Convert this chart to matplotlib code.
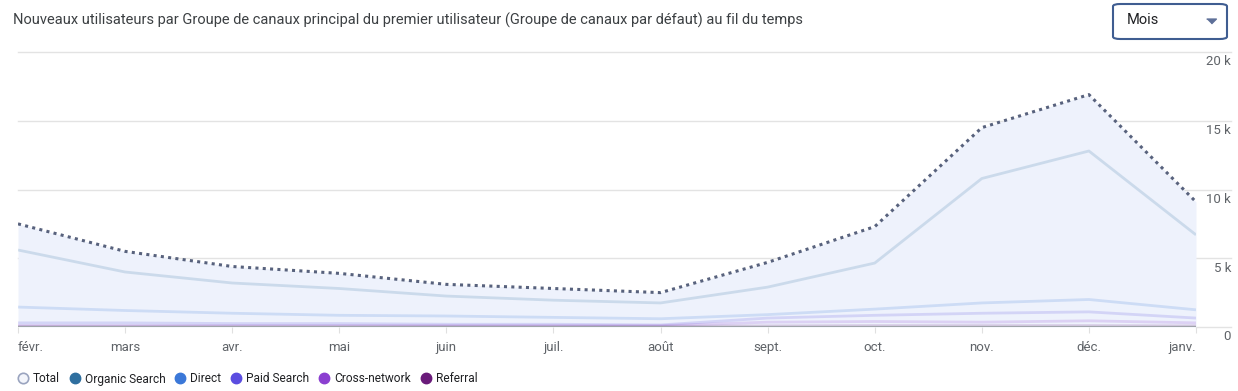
import numpy as np
import matplotlib.pyplot as plt
from matplotlib.patches import FancyBboxPatch
from matplotlib.lines import Line2D

plt.rcParams['font.family'] = ['Roboto', 'DejaVu Sans']

mois = ['févr.', 'mars', 'avr.', 'mai', 'juin', 'juil.', 'août', 'sept.', 'oct.', 'nov.', 'déc.', 'janv.']
total = [7500, 5500, 4400, 3900, 3100, 2800, 2500, 4700, 7300, 14500, 16900, 9100]
organic = [5600, 4000, 3200, 2800, 2250, 1950, 1750, 2900, 4650, 10800, 12800, 6700]
direct = [1450, 1200, 1000, 850, 800, 700, 600, 900, 1300, 1750, 2000, 1250]
paid = [300, 300, 250, 250, 200, 200, 150, 650, 850, 1000, 1100, 650]
cross = [100, 100, 100, 100, 100, 100, 100, 350, 400, 350, 450, 300]
referral = [50, 50, 50, 50, 50, 50, 50, 80, 100, 100, 100, 80]
yticks = [0, 5000, 10000, 15000, 20000]
ylabels = ['0', '5 k', '10 k', '15 k', '20 k']

series = [('Organic Search', organic, '#2f6f9f'),
          ('Direct', direct, '#3b78d8'),
          ('Paid Search', paid, '#5b4de0'),
          ('Cross-network', cross, '#8b3fd0'),
          ('Referral', referral, '#6a1b7a')]

W, H = 1238, 391
fig = plt.figure(figsize=(W / 100, H / 100), dpi=100)
ax = fig.add_axes([18 / W, 1 - 327 / H, (1196 - 18) / W, (327 - 52) / H])
x = np.arange(len(mois))

# zone remplie sous le total
ax.fill_between(x, 0, total, color='#eef2fc', lw=0, zorder=1)

# séries estompées (Total en surbrillance)
for name, vals, col in series:
    ax.plot(x, vals, color=col, alpha=0.18, lw=2, zorder=2, solid_capstyle='butt')

ax.plot(x, total, color='#58627d', lw=2.2, ls=(0, (1, 1.4)), zorder=4)

ax.set_xlim(0, len(mois) - 1)
ax.set_ylim(0, 20000)
for s in ax.spines.values():
    s.set_visible(False)

# grille horizontale qui déborde jusqu'aux étiquettes
ext = (1231 - 18) / (1196 - 18)
for t, lab in zip(yticks, ylabels):
    if t == 0:
        ax.axhline(0, xmin=0, xmax=1, color='#a0a4aa', lw=1.6, zorder=3)
        ax.axhline(0, xmin=1, xmax=ext, color='#e3e3e3', lw=1, clip_on=False, zorder=0)
    else:
        ax.axhline(t, xmin=0, xmax=ext, color='#e3e3e3', lw=1, clip_on=False, zorder=0)
    ax.annotate(lab, xy=(ext, t), xycoords=ax.get_yaxis_transform(),
                xytext=(0, -2.5), textcoords='offset points',
                ha='right', va='top', fontsize=9.5, color='#5f6368')

ax.set_yticks([])
ax.set_xticks(x)
ax.set_xticklabels(mois, fontsize=9.5, color='#5f6368')
ax.tick_params(axis='x', length=4, width=0.8, color='#e0e0e0', pad=6)
labs = ax.get_xticklabels()
labs[0].set_ha('left')
labs[-1].set_ha('right')

# titre
fig.text(13 / W, 1 - 20 / H, 'Nouveaux utilisateurs par Groupe de canaux principal du premier utilisateur '
         '(Groupe de canaux par défaut) au fil du temps',
         fontsize=10.5, color='#3c4043', va='center', ha='left')

# liste déroulante
box = FancyBboxPatch((1113 / W, 1 - 39 / H), 114 / W, 35 / H,
                     boxstyle='round,pad=0,rounding_size=0.006',
                     transform=fig.transFigure, fc='white', ec='#3f5d91', lw=1.5)
fig.patches.append(box)
fig.text(1127 / W, 1 - 20 / H, 'Mois', fontsize=10.5, color='#202124', va='center')
fig.lines.append(Line2D([1211 / W], [1 - 20.5 / H], marker=[(-1, 0.5), (1, 0.5), (0, -0.5)],
                        ms=7, color='#5d6f98', transform=fig.transFigure))

# légende
handles = [Line2D([], [], ls='none', marker='o', ms=7.5, mfc='#f3f5fb', mec='#9aa4bf', mew=1.2)]
handles += [Line2D([], [], ls='none', marker='o', ms=7.5, color=c) for _, _, c in series]
names = ['Total'] + [n for n, _, _ in series]
fig.legend(handles, names, loc='center left', bbox_to_anchor=(17 / W, 1 - 379 / H),
           ncol=6, frameon=False, fontsize=8.6, handletextpad=0.33, columnspacing=0.75,
           handlelength=1.0, labelcolor='#202124', borderpad=0, borderaxespad=0)

fig.savefig('out.png', dpi=100)
